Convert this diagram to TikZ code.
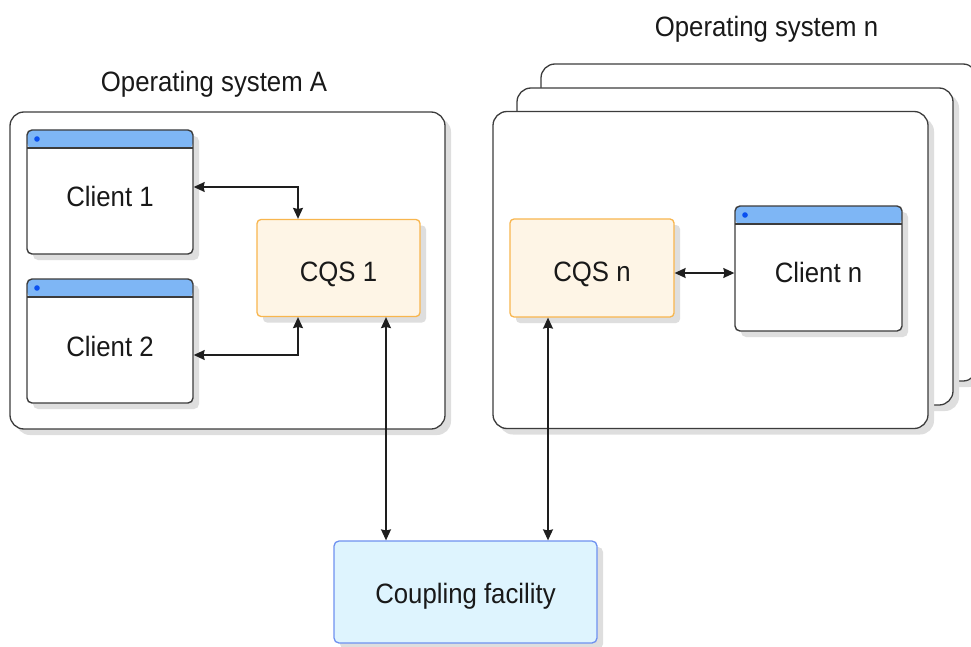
\documentclass[tikz,border=0pt]{standalone}
\usepackage{fontspec}
\setmainfont[FakeStretch=0.92]{Liberation Sans}
\usetikzlibrary{arrows.meta,shadows}

\definecolor{hdr}{RGB}{126,182,245}
\definecolor{dotc}{RGB}{10,80,240}
\definecolor{cqsfill}{RGB}{254,245,230}
\definecolor{cqsdraw}{RGB}{248,182,78}
\definecolor{cffill}{RGB}{222,244,254}
\definecolor{cfdraw}{RGB}{110,145,240}
\definecolor{edge}{RGB}{60,60,60}
\definecolor{arrc}{RGB}{30,30,30}
\definecolor{shdc}{RGB}{222,222,222}
\definecolor{txt}{RGB}{25,25,25}

\begin{document}
\begin{tikzpicture}[x=1pt,y=-1pt,
  font=\fontsize{28}{33}\selectfont, text=txt,
  shd/.style={drop shadow={shadow xshift=6pt,shadow yshift=-6pt,fill=shdc,opacity=1}},
  osbox/.style={draw=edge,line width=1.3pt,fill=white,rounded corners=14pt,shd,
    minimum width=435pt,minimum height=317pt,inner sep=0pt},
  win/.style={draw=edge,line width=1.4pt,fill=white,rounded corners=5pt,shd,
    minimum width=166pt,minimum height=124pt,inner sep=0pt,text height=30pt,text depth=0pt,
    path picture={
      \fill[hdr] (path picture bounding box.north west) rectangle ([yshift=-18pt]path picture bounding box.north east);
      \draw[edge,line width=1.4pt] ([yshift=-18pt]path picture bounding box.north west) -- ([yshift=-18pt]path picture bounding box.north east);
      \fill[dotc] ([xshift=10pt,yshift=-9pt]path picture bounding box.north west) circle (2.8pt);
    }},
  cqs/.style={draw=cqsdraw,line width=1.3pt,fill=cqsfill,rounded corners=4pt,shd,
    minimum width=163pt,minimum height=97pt,inner sep=0pt,text height=26pt,text depth=0pt},
  cfbox/.style={draw=cfdraw,line width=1.3pt,fill=cffill,rounded corners=5pt,shd,
    minimum width=263pt,minimum height=102pt,inner sep=0pt,text height=22pt,text depth=0pt},
  arr/.style={draw=arrc,line width=1.3pt,
    arrows={Stealth[length=11pt,width=10pt,inset=1.2pt]-Stealth[length=11pt,width=10pt,inset=1.2pt]}},
  lab/.style={anchor=base,inner sep=0pt}
]
\useasboundingbox (0,0) rectangle (971,647);

% operating system boxes
\node[osbox] (osA) at (227.5,270.5) {};
\node[osbox,minimum width=436pt] (osN3) at (759,222.5) {};
\node[osbox,minimum width=436pt] (osN2) at (735,246.5) {};
\node[osbox] (osN1) at (710.5,270) {};

\node[lab] (labA) at (214,92) {Operating system A};
\node[lab] (labN) at (766.5,37) {Operating system n};

% clients and servers
\node[win] (c1) at (110,192) {Client 1};
\node[win] (c2) at (110,341) {Client 2};
\node[cqs] (cqs1) at (338.5,268) {CQS 1};
\node[cqs,minimum width=164pt,minimum height=98pt] (cqsn) at (592,268) {CQS n};
\node[win,minimum width=167pt,minimum height=125pt,text height=27pt] (cn) at (818.5,268.5) {Client n};
\node[cfbox] (cf) at (465.5,592) {Coupling facility};

% connectors
\draw[arr] ([yshift=5pt]c1.east) -| ([xshift=-40.5pt]cqs1.north);
\draw[arr] ([yshift=-14pt]c2.east) -| ([xshift=-40.5pt]cqs1.south);
\draw[arr] ([xshift=47.5pt]cqs1.south) -- ([xshift=47.5pt]cqs1.south |- cf.north);
\draw[arr] ([xshift=-44pt]cqsn.south) -- ([xshift=-44pt]cqsn.south |- cf.north);
\draw[arr] ([yshift=-5pt]cqsn.east) -- ([yshift=-5pt]cqsn.east -| cn.west);
\end{tikzpicture}
\end{document}
